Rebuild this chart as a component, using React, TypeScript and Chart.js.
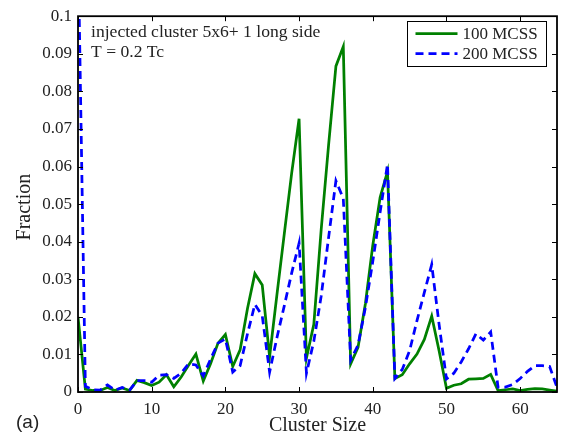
import React, { useEffect, useRef } from 'react';
import { Chart, registerables } from 'chart.js';

Chart.register(...registerables);

const clusterSizes = [
  0, 1, 2, 3, 4, 5, 6, 7, 8, 9, 10, 11, 12, 13, 14, 15, 16, 17, 18, 19, 20,
  21, 22, 23, 24, 25, 26, 27, 28, 29, 30, 31, 32, 33, 34, 35, 36, 37, 38, 39, 40,
  41, 42, 43, 44, 45, 46, 47, 48, 49, 50, 51, 52, 53, 54, 55, 56, 57, 58, 59, 60,
  61, 62, 63, 64, 65,
];

const fraction100 = [
  0.0200, 0.0008, 0.0004, 0.0004, 0.0012, 0.0004, 0.0011, 0.0004, 0.0031, 0.0025,
  0.0017, 0.0026, 0.0046, 0.0014, 0.0040, 0.0071, 0.0101, 0.0029, 0.0076, 0.0130,
  0.0153, 0.0068, 0.0112, 0.0222, 0.0315, 0.0285, 0.0094, 0.0260, 0.0422, 0.0583,
  0.0727, 0.0090, 0.0180, 0.0432, 0.0656, 0.0867, 0.0919, 0.0075, 0.0119, 0.0235,
  0.0390, 0.0518, 0.0587, 0.0036, 0.0046, 0.0075, 0.0101, 0.0140, 0.0202, 0.0110,
  0.0010, 0.0018, 0.0022, 0.0034, 0.0035, 0.0036, 0.0047, 0.0004, 0.0006, 0.0008,
  0.0004, 0.0007, 0.0009, 0.0008, 0.0005, 0.0002,
];

const fraction200 = [
  0.1200, 0.0015, 0.0006, 0.0005, 0.0019, 0.0005, 0.0012, 0.0005, 0.0030, 0.0030,
  0.0026, 0.0045, 0.0046, 0.0036, 0.0050, 0.0075, 0.0072, 0.0043, 0.0088, 0.0130,
  0.0141, 0.0053, 0.0070, 0.0155, 0.0233, 0.0203, 0.0053, 0.0145, 0.0230, 0.0317,
  0.0396, 0.0050, 0.0135, 0.0255, 0.0410, 0.0562, 0.0515, 0.0085, 0.0125, 0.0225,
  0.0347, 0.0479, 0.0606, 0.0036, 0.0060, 0.0110, 0.0190, 0.0265, 0.0339, 0.0180,
  0.0035, 0.0050, 0.0080, 0.0115, 0.0155, 0.0138, 0.0160, 0.0013, 0.0013, 0.0020,
  0.0036, 0.0055, 0.0070, 0.0070, 0.0068, 0.0012,
];

const xTicks = [0, 10, 20, 30, 40, 50, 60];
const yTicks = [0, 0.01, 0.02, 0.03, 0.04, 0.05, 0.06, 0.07, 0.08, 0.09, 0.1];
const seriesLabels = ['100 MCSS', '200 MCSS'];
const annotationLines = ['injected cluster 5x6+ 1 long side', 'T = 0.2 Tc'];
const xTitle = 'Cluster Size';
const yTitle = 'Fraction';
const panelLabel = '(a)';

const SERIF = '"Liberation Serif", "Times New Roman", serif';
const SANS = '"Liberation Sans", Arial, sans-serif';
const TEXT = '#222222';
const GREEN = '#008000';
const BLUE = '#0000ff';

const framePlugin = {
  id: 'matlabFrame',
  afterDraw(chart: any) {
    const ctx = chart.ctx;
    const { left, right, top, bottom } = chart.chartArea;
    const xs = chart.scales.x;
    const ys = chart.scales.y;
    ctx.save();
    // inward ticks
    ctx.strokeStyle = '#000';
    ctx.lineWidth = 1;
    const tl = 5;
    ctx.beginPath();
    xTicks.forEach((v) => {
      const px = Math.round(xs.getPixelForValue(v)) + 0.5;
      ctx.moveTo(px, bottom);
      ctx.lineTo(px, bottom - tl);
      ctx.moveTo(px, top);
      ctx.lineTo(px, top + tl);
    });
    yTicks.forEach((v) => {
      const py = Math.round(ys.getPixelForValue(v)) + 0.5;
      ctx.moveTo(left, py);
      ctx.lineTo(left + tl, py);
      ctx.moveTo(right, py);
      ctx.lineTo(right - tl, py);
    });
    ctx.stroke();
    // box
    ctx.lineWidth = 1.8;
    ctx.strokeRect(left, top, right - left, bottom - top);

    // annotation
    ctx.fillStyle = TEXT;
    ctx.font = `17.6px ${SERIF}`;
    ctx.textAlign = 'left';
    ctx.textBaseline = 'alphabetic';
    ctx.fillText(annotationLines[0], left + 13, top + 21);
    ctx.fillText(annotationLines[1], left + 13, top + 40.5);

    // legend
    const lx = 407.5, ly = 21.5, lw = 139, lh = 45;
    ctx.fillStyle = '#fff';
    ctx.fillRect(lx, ly, lw, lh);
    ctx.strokeStyle = '#000';
    ctx.lineWidth = 1;
    ctx.strokeRect(lx, ly, lw, lh);
    const rows = [
      { label: seriesLabels[0], color: GREEN, dash: [] as number[], y: ly + 12 },
      { label: seriesLabels[1], color: BLUE, dash: [8, 5], y: ly + 32 },
    ];
    rows.forEach((r) => {
      ctx.beginPath();
      ctx.strokeStyle = r.color;
      ctx.lineWidth = 2.75;
      ctx.setLineDash(r.dash);
      ctx.moveTo(lx + 8, r.y);
      ctx.lineTo(lx + 50, r.y);
      ctx.stroke();
      ctx.setLineDash([]);
      ctx.fillStyle = TEXT;
      ctx.font = `17px ${SERIF}`;
      ctx.textBaseline = 'middle';
      ctx.fillText(r.label, lx + 55, r.y + 1);
    });

    // axis titles
    ctx.fillStyle = TEXT;
    ctx.font = `20px ${SERIF}`;
    ctx.textAlign = 'center';
    ctx.textBaseline = 'alphabetic';
    ctx.fillText(xTitle, (left + right) / 2, 431);
    ctx.save();
    ctx.translate(25, (top + bottom) / 2 + 3);
    ctx.rotate(-Math.PI / 2);
    ctx.textBaseline = 'middle';
    ctx.fillText(yTitle, 0, 0);
    ctx.restore();

    // panel label
    ctx.font = `19px ${SANS}`;
    ctx.textAlign = 'left';
    ctx.textBaseline = 'alphabetic';
    ctx.fillText(panelLabel, 16, 428);
    ctx.restore();
  },
};

export default function App() {
  const ref = useRef<HTMLCanvasElement | null>(null);
  useEffect(() => {
    if (!ref.current) return;
    const chart = new Chart(ref.current, {
      type: 'line',
      data: {
        datasets: [
          {
            label: seriesLabels[0],
            data: clusterSizes.map((x, i) => ({ x, y: fraction100[i] })),
            borderColor: GREEN,
            borderWidth: 2.75,
            pointRadius: 0,
            tension: 0,
            fill: false,
            order: 1,
          },
          {
            label: seriesLabels[1],
            data: clusterSizes.map((x, i) => ({ x, y: fraction200[i] })),
            borderColor: BLUE,
            borderWidth: 2.75,
            borderDash: [8, 5],
            pointRadius: 0,
            tension: 0,
            fill: false,
            order: 0,
          },
        ],
      },
      options: {
        animation: false,
        responsive: false,
        devicePixelRatio: 1,
        layout: { padding: { top: 12, right: 4, left: 0, bottom: 0 } },
        plugins: { legend: { display: false }, tooltip: { enabled: false } },
        scales: {
          x: {
            type: 'linear',
            min: 0,
            max: 65,
            afterBuildTicks: (s: any) => {
              s.ticks = xTicks.map((v) => ({ value: v }));
            },
            afterFit: (s: any) => {
              s.height = 44;
            },
            grid: { display: false, drawTicks: false },
            border: { display: false },
            ticks: {
              font: { family: SERIF, size: 17 },
              color: TEXT,
              padding: 7,
              maxRotation: 0,
              autoSkip: false,
              callback: (v: any) => String(v),
            },
          },
          y: {
            type: 'linear',
            min: 0,
            max: 0.1,
            afterBuildTicks: (s: any) => {
              s.ticks = yTicks.map((v) => ({ value: v }));
            },
            afterFit: (s: any) => {
              s.width = 78;
            },
            grid: { display: false, drawTicks: false },
            border: { display: false },
            ticks: {
              font: { family: SERIF, size: 17 },
              color: TEXT,
              padding: 6,
              autoSkip: false,
              callback: (v: any) => String(parseFloat(Number(v).toFixed(2))),
            },
          },
        },
      },
      plugins: [framePlugin],
    });
    return () => chart.destroy();
  }, []);
  return (
    <div style={{ position: 'fixed', left: 0, top: 0, width: 561, height: 436, background: '#fff' }}>
      <canvas ref={ref} width={561} height={436} style={{ width: 561, height: 436, display: 'block' }} />
    </div>
  );
}
